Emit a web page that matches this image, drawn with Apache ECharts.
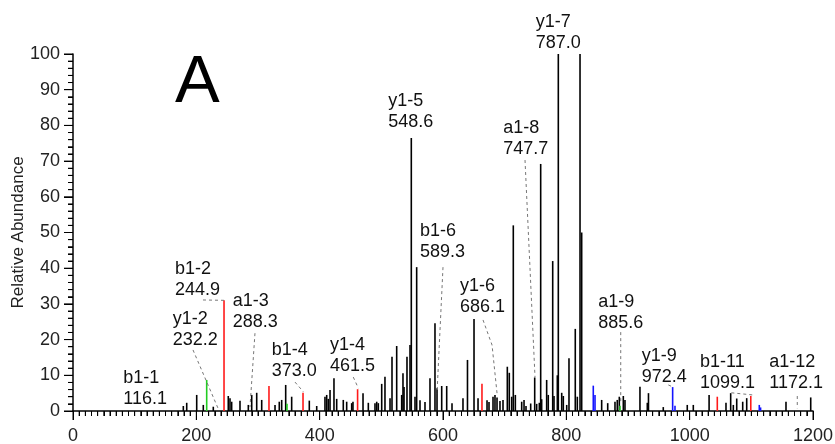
<!DOCTYPE html>
<html><head><meta charset="utf-8">
<script src="https://cdn.jsdelivr.net/npm/echarts@6/dist/echarts.min.js"></script>
<style>html,body{margin:0;padding:0;background:#fff}#c{width:835px;height:444px}</style>
</head><body><div id="c"></div>
<script>
// ---- data ----
const xMin = 0, xMax = 1200, xStep = 200, xMinorStep = 10;
const yMin = 0, yMax = 100, yStep = 10, yMinorStep = 2;
const yTitle = 'Relative Abundance';
const panelLetter = 'A';

const blackMz = [178.9,184.4,200.6,211.3,227.5,251.8,254.6,257.3,270.8,284.3,289.8,297.9,306.0,327.6,334.5,338.4,344.9,354.6,383.2,395.2,408.6,411.4,414.0,416.8,423.2,427.6,438.3,443.8,451.9,454.0,470.3,478.9,489.7,492.5,495.1,500.6,505.9,514.1,517.3,524.9,533.0,535.1,536.8,541.6,546.5,548.6,554.6,557.3,562.7,570.8,578.9,587.0,590.3,597.9,606.0,614.6,632.4,639.7,650.3,656.8,671.4,674.6,681.1,684.3,687.6,692.4,697.3,704.3,707.5,711.4,714.0,717.3,727.6,731.4,734.6,742.2,748.7,751.9,756.2,758.4,760.0,768.1,770.7,777.9,780.0,785.4,787.0,792.5,795.1,800.6,804.3,814.5,817.8,822.2,824.9,857.3,867.1,878.9,882.6,885.9,892.4,895.1,919.4,931.3,933.2,957.2,996.1,1005.9,1031.5,1058.9,1066.5,1070.8,1076.3,1086.0,1092.5,1156.2,1196.3];
const blackInt = [1.4,2.3,4.5,1.7,1.2,4.2,3.6,2.6,2.9,1.7,4.5,5.1,3.1,1.7,2.6,3.1,7.3,4.0,2.9,1.4,4.0,4.5,3.4,5.9,9.2,3.4,3.1,2.6,2.2,2.6,5.0,2.3,2.2,2.6,2.2,7.6,9.6,3.6,15.2,18.2,4.5,10.6,6.7,15.2,18.5,76.5,4.0,40.3,3.0,2.5,9.2,24.6,6.4,7.0,7.0,2.2,3.6,14.3,25.8,3.6,3.0,2.5,4.0,4.5,3.8,2.8,3.1,12.4,10.7,4.0,52.0,4.5,2.6,3.1,1.4,2.1,9.4,2.0,2.3,69.2,3.3,8.7,4.5,42.0,4.2,10.0,100,5.1,4.2,1.7,14.8,23.0,4.0,100,50,3.1,2.2,2.6,3.1,4.0,4.2,3.1,6.8,2.3,5.0,1.1,1.7,1.7,4.5,2.3,5.0,1.7,3.5,2.6,3.6,2.6,3.8];
const redMz = [244.9,317.8,373.0,461.5,663.2,1044.8,1099.1];
const redInt = [31.0,7.0,5.1,6.1,7.6,4.0,4.2];
const greenMz = [216.8,347.0,887.0];
const greenInt = [8.7,2.0,1.5];
const blueMz = [843.7,846.5,972.4,976.2,1112.9,1115.0];
const blueInt = [7.1,4.5,6.7,1.5,1.7,1.0];

// annotations: ion name, m/z text, anchor (m/z, intensity) of text block, leader points
const annIon = ['b1-1','y1-2','b1-2','a1-3','b1-4','y1-4','y1-5','b1-6','y1-6','a1-8','y1-7','a1-9','y1-9','b1-11','a1-12'];
const annMz = ['116.1','232.2','244.9','288.3','373.0','461.5','548.6','589.3','686.1','747.7','787.0','885.6','972.4','1099.1','1172.1'];
const annX = [81.6,161.7,165.4,259.0,322.2,416.8,511.3,562.7,627.6,697.8,750.3,851.8,922.2,1016.8,1129.1];
const annY = [3.4,19.9,33.9,24.9,11.3,12.7,80.9,44.5,29.0,73.4,103.0,24.6,9.6,7.8,7.8];
const annLeader = [
  [],
  [[194.6,17.1],[235.1,0.8]],
  [[210.8,31.1],[244.9,31.0]],
  [[295.1,21.8],[287.0,1.1]],
  [[360.0,8.1],[373.5,5.4]],
  [[454.5,9.5],[462.7,6.4]],
  [],
  [[600.0,40.3],[590.3,5.0]],
  [[664.9,25.5],[679.5,18.5],[687.6,5.0]],
  [[733.0,70.3],[749.2,9.5]],
  [],
  [[888.2,22.1],[888.2,2.5]],
  [[965.4,7.3],[973.0,6.7]],
  [[1067.6,5.1],[1102.2,4.5]],
  [[1174.5,4.2],[1174.5,0.8]]
];

// ---- chart ----
const FONT = '"Liberation Sans", Arial, sans-serif';
function peakSeries(mz, ints, color, w) {
  return {
    type: 'custom', clip: false, silent: true,
    data: mz.map((m, i) => [m, ints[i]]),
    renderItem: function (params, api) {
      const x = api.value(0), y = api.value(1);
      const p0 = api.coord([x, 0]), p1 = api.coord([x, y]);
      return { type: 'line', shape: { x1: p0[0], y1: p0[1], x2: p1[0], y2: p1[1] },
               style: { stroke: color, lineWidth: w } };
    }
  };
}
const annSeries = {
  type: 'custom', clip: false, silent: true, z: 5,
  data: annIon.map((n, i) => [annX[i], annY[i], i]),
  renderItem: function (params, api) {
    const i = api.value(2);
    const p = api.coord([api.value(0), api.value(1)]);
    const children = [
      { type: 'text', x: p[0], y: p[1] - 21, style: { text: annIon[i], fill: '#111', font: '18px ' + FONT, align: 'left', verticalAlign: 'middle', textAlign: 'left', textVerticalAlign: 'middle' } },
      { type: 'text', x: p[0], y: p[1], style: { text: annMz[i], fill: '#111', font: '18px ' + FONT, align: 'left', verticalAlign: 'middle', textAlign: 'left', textVerticalAlign: 'middle' } }
    ];
    const pts = annLeader[i].map(q => api.coord(q));
    if (pts.length > 1) {
      children.push({ type: 'polyline', shape: { points: pts },
        style: { stroke: '#777', lineWidth: 1, lineDash: [3, 3], fill: null } });
    }
    return { type: 'group', children: children };
  }
};

// axis tick marks (major + minor) placed through the axes' own scales
const xTickVals = [], yTickVals = [];
for (let v = xMin; v <= xMax + 1e-9; v += xMinorStep) xTickVals.push(v);
for (let v = yMin; v <= yMax + 1e-9; v += yMinorStep) yTickVals.push(v);
const tickSeries = {
  type: 'custom', clip: false, silent: true, z: 1,
  data: xTickVals.map(v => [v, yMin, 0]).concat(yTickVals.map(v => [xMin, v, 1])),
  renderItem: function (params, api) {
    const isY = api.value(2) === 1;
    const v = isY ? api.value(1) : api.value(0);
    const major = Math.abs(v % (isY ? yStep : xStep)) < 1e-6;
    const len = major ? 9 : 5;
    const p = api.coord([api.value(0), api.value(1)]);
    const shape = isY ? { x1: p[0] - len, y1: p[1], x2: p[0], y2: p[1] }
                      : { x1: p[0], y1: p[1], x2: p[0], y2: p[1] + len };
    return { type: 'line', shape: shape, style: { stroke: '#000', lineWidth: 1 } };
  }
};

const chart = echarts.init(document.getElementById('c'));
chart.setOption({
  animation: false,
  backgroundColor: '#fff',
  grid: { left: 73, right: 22, top: 54, bottom: 33,
          outerBounds: { left: -200, right: -200, top: -200, bottom: -200 },
          outerBoundsContain: 'axisLabel' },
  xAxis: {
    type: 'value', min: xMin, max: xMax, interval: xStep,
    axisLine: { show: true, onZero: false, lineStyle: { color: '#000', width: 1.5 } },
    axisTick: { show: true, length: 9, lineStyle: { color: '#000', width: 1 } },
    minorTick: { show: true, splitNumber: 20, length: 5, lineStyle: { color: '#000', width: 1 } },
    splitLine: { show: false }, minorSplitLine: { show: false },
    axisLabel: { fontSize: 18, color: '#222', margin: 16, fontFamily: FONT, formatter: v => String(v) }
  },
  yAxis: {
    type: 'value', min: yMin, max: yMax, interval: yStep,
    name: yTitle, nameLocation: 'middle', nameGap: 46, nameMoveOverlap: false,
    nameTextStyle: { fontSize: 17, color: '#222', fontFamily: FONT },
    axisLine: { show: true, lineStyle: { color: '#000', width: 1.5 } },
    axisTick: { show: true, length: 9, lineStyle: { color: '#000', width: 1 } },
    minorTick: { show: true, splitNumber: 5, length: 5, lineStyle: { color: '#000', width: 1 } },
    splitLine: { show: false }, minorSplitLine: { show: false },
    axisLabel: { fontSize: 18, color: '#222', margin: 13, fontFamily: FONT, formatter: v => String(v) }
  },
  graphic: [{
    type: 'text', left: 175, top: 50,
    style: { text: panelLetter, fill: '#000', font: '67px ' + FONT }
  }],
  series: [
    tickSeries,
    peakSeries(blackMz, blackInt, '#000', 1.6),
    peakSeries(redMz, redInt, '#ff1a1a', 1.6),
    peakSeries(greenMz, greenInt, '#22cc22', 1.6),
    peakSeries(blueMz, blueInt, '#1414ff', 1.6),
    annSeries
  ]
});
</script>
</body></html>
